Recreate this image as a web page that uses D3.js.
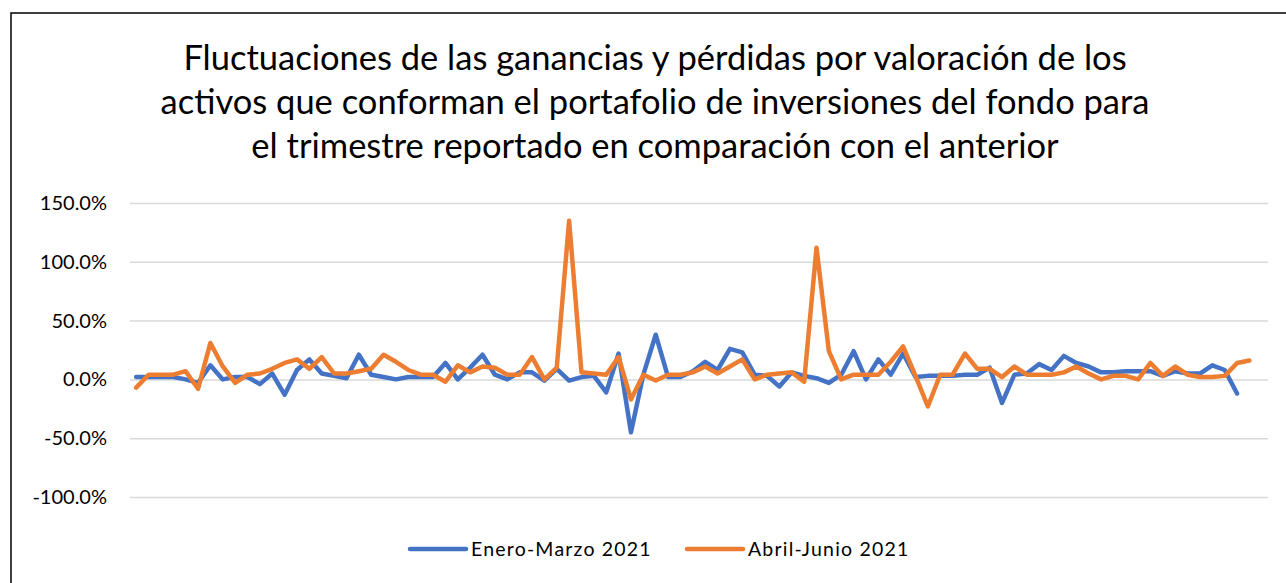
<!DOCTYPE html>
<html>
<head>
<meta charset="utf-8">
<script src="https://cdn.jsdelivr.net/npm/d3@7"></script>
<style>
  body { margin: 0; background: #fff; }
  svg { display: block; font-family: Lato, "Open Sans", sans-serif; }
</style>
</head>
<body>
<div id="chart"></div>
<script>
// category count on the x axis (the last slot is empty)
var categories = d3.range(92);

var seriesNames = ["Enero-Marzo 2021", "Abril-Junio 2021"];

var eneroMarzo = [2, 2, 2, 2, 0, -3, 12, 0, 2, 2, -4, 5, -13, 8, 17, 5, 3, 1, 21, 4,
  2, 0, 2, 2, 2, 14, 0, 10, 21, 4, 0, 6, 6, -1, 9, -1, 2, 3, -11, 22,
  -45, 4, 38, 2, 2, 7, 15, 8, 26, 23, 4, 3, -6, 6, 3, 1, -3, 4, 24, 0,
  17, 4, 22, 2, 3, 3, 3, 4, 4, 10, -20, 4, 5, 13, 8, 20, 14, 11, 6, 6,
  7, 7, 7, 3, 7, 5, 5, 12, 8, -12];

var abrilJunio = [-7, 4, 4, 4, 7, -8, 31, 11, -3, 4, 5, 9, 14, 17, 9, 19, 5, 5, 7, 9,
  21, 15, 8, 4, 4, -2, 12, 6, 11, 10, 4, 4, 19, 0, 10, 135, 6, 5, 4, 19,
  -17, 4, -1, 4, 4, 6, 11, 5, 11, 17, 0, 4, 5, 6, -2, 112, 24, 0, 4, 4,
  4, 15, 28, 3, -23, 4, 4, 22, 9, 9, 2, 11, 4, 4, 4, 6, 11, 5, 0, 3,
  3, 0, 14, 3, 11, 4, 2, 2, 3, 14, 16];

var yTicks = [-100, -50, 0, 50, 100, 150];

var titleLines = [
  "Fluctuaciones de las ganancias y pérdidas por valoración de los",
  "activos que conforman el portafolio de inversiones del fondo para",
  "el trimestre reportado en comparación con el anterior"
];

var colors = ["#4472C4", "#ED7D31"];

var width = 1286, height = 583;
var margin = {top: 203, right: 18, bottom: 86, left: 130};

var svg = d3.select("#chart").append("svg")
  .attr("width", width)
  .attr("height", height);

// outer frame (right and bottom edges fall outside the picture)
svg.append("rect")
  .attr("x", 11).attr("y", 13)
  .attr("width", 1300).attr("height", 600)
  .attr("fill", "none")
  .attr("stroke", "#000")
  .attr("stroke-width", 1.5);

svg.append("g")
  .selectAll("text")
  .data(titleLines)
  .enter().append("text")
  .attr("x", 655)
  .attr("y", (d, i) => 70 + i * 44)
  .attr("text-anchor", "middle")
  .attr("font-size", 34.5)
  .attr("fill", "#000")
  .text(d => d);

x = d3.scaleBand()
  .domain(categories)
  .range([margin.left, width - margin.right]);

y = d3.scaleLinear()
  .domain([-100, 150])
  .range([height - margin.bottom, margin.top]);

yAxis = g => g
  .attr("transform", `translate(${margin.left},0)`)
  .call(d3.axisLeft(y)
    .tickValues(yTicks)
    .tickSize(-(width - margin.right - margin.left))
    .tickPadding(23)
    .tickFormat(d => d.toFixed(1) + "%"))
  .call(g => g.select(".domain").remove())
  .call(g => g.selectAll(".tick line").attr("stroke", "#d9d9d9").attr("stroke-width", 1.5))
  .call(g => g.selectAll(".tick text")
    .attr("font-family", "Lato, sans-serif")
    .attr("font-size", 20)
    .attr("fill", "#000"));

svg.append("g")
  .call(yAxis);

var line = d3.line()
  .x((d, i) => x(i) + x.bandwidth() / 2)
  .y(d => y(d));

svg.append("g")
  .selectAll("path")
  .data([eneroMarzo, abrilJunio])
  .enter().append("path")
  .attr("d", line)
  .attr("fill", "none")
  .attr("stroke", (d, i) => colors[i])
  .attr("stroke-width", 4.5)
  .attr("stroke-linejoin", "round")
  .attr("stroke-linecap", "round");

// legend
var legendX = [410, 687];
var legend = svg.append("g")
  .selectAll("g")
  .data(seriesNames)
  .enter().append("g")
  .attr("transform", (d, i) => `translate(${legendX[i]},549)`);

legend.append("line")
  .attr("x1", 0).attr("x2", 56)
  .attr("stroke", (d, i) => colors[i])
  .attr("stroke-width", 4.5)
  .attr("stroke-linecap", "round");

legend.append("text")
  .attr("x", 61)
  .attr("dy", "0.35em")
  .attr("font-size", 19.5)
  .attr("letter-spacing", 1.2)
  .attr("fill", "#000")
  .text(d => d);
</script>
</body>
</html>
